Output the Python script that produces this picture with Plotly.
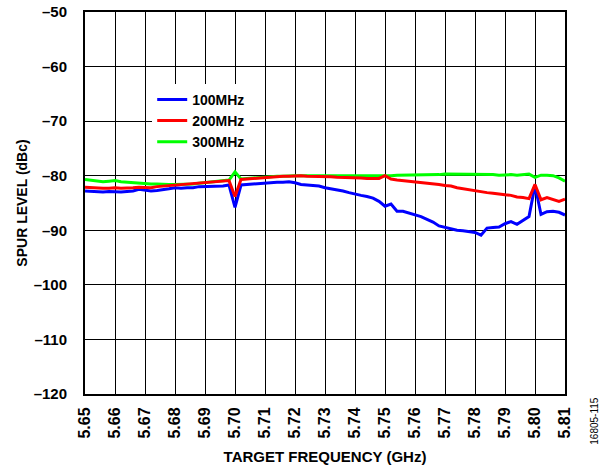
import plotly.graph_objects as go

freq_ghz = [round(5.65 + 0.002 * i, 3) for i in range(81)]

spur_100mhz = [
    -82.8, -82.9, -83.0, -83.0, -82.9, -83.0, -83.0, -82.9, -82.8, -82.5,
    -82.6, -82.8, -82.7, -82.6, -82.4, -82.2, -82.3, -82.2, -82.2, -82.0,
    -82.0, -82.0, -81.9, -81.9, -81.7, -85.8, -81.7, -81.6, -81.5, -81.4,
    -81.3, -81.3, -81.2, -81.2, -81.1, -81.3, -81.6, -81.7, -81.8, -81.9,
    -82.2, -82.4, -82.5, -82.8, -83.1, -83.4, -83.6, -83.8, -84.1, -84.7,
    -85.6, -85.2, -86.5, -86.5, -86.8, -87.1, -87.5, -88.0, -88.5, -89.2,
    -89.5, -89.7, -90.0, -90.1, -90.2, -90.4, -90.9, -89.6, -89.5, -89.4,
    -88.8, -88.4, -88.9, -88.2, -87.5, -81.8, -87.1, -86.6, -86.5, -86.7,
    -87.2,
]

spur_200mhz = [
    -82.1, -82.2, -82.2, -82.3, -82.3, -82.2, -82.3, -82.3, -82.2, -82.1,
    -82.1, -82.2, -82.0, -81.9, -81.8, -81.7, -81.7, -81.6, -81.5, -81.4,
    -81.3, -81.1, -81.0, -81.0, -80.9, -83.8, -80.7, -80.6, -80.5, -80.4,
    -80.3, -80.3, -80.2, -80.1, -80.1, -80.0, -80.0, -80.1, -80.1, -80.1,
    -80.2, -80.2, -80.3, -80.3, -80.3, -80.4, -80.4, -80.5, -80.5, -80.5,
    -80.0, -80.6, -80.8, -80.9, -81.0, -81.1, -81.2, -81.3, -81.5, -81.6,
    -81.8, -81.9, -82.2, -82.4, -82.5, -82.7, -82.9, -83.1, -83.2, -83.4,
    -83.5, -83.6, -83.9, -84.0, -84.2, -81.6, -84.4, -84.0, -84.3, -84.7,
    -84.3,
]

spur_300mhz = [
    -80.7, -80.8, -80.9, -81.1, -81.0, -80.9, -81.1, -81.2, -81.3, -81.4,
    -81.5, -81.5, -81.5, -81.6, -81.6, -81.6, -81.6, -81.5, -81.5, -81.4,
    -81.3, -81.1, -81.0, -81.0, -80.8, -79.3, -80.6, -80.5, -80.4, -80.3,
    -80.3, -80.2, -80.1, -80.1, -80.0, -80.0, -80.0, -80.0, -80.0, -80.0,
    -80.1, -80.1, -80.1, -80.1, -80.1, -80.1, -80.1, -80.1, -80.0, -80.0,
    -80.0, -80.0, -79.9, -79.9, -79.8, -79.9, -79.9, -79.8, -79.8, -79.8,
    -79.7, -79.7, -79.7, -79.8, -79.8, -79.8, -79.8, -79.8, -79.8, -79.9,
    -79.8, -79.8, -79.9, -79.8, -79.7, -80.3, -79.9, -79.9, -80.0, -80.4,
    -81.0,
]

x_ticks = [5.65, 5.66, 5.67, 5.68, 5.69, 5.70, 5.71, 5.72, 5.73, 5.74,
           5.75, 5.76, 5.77, 5.78, 5.79, 5.80, 5.81]
x_tick_labels = ["5.65", "5.66", "5.67", "5.68", "5.69", "5.70", "5.71", "5.72",
                 "5.73", "5.74", "5.75", "5.76", "5.77", "5.78", "5.79", "5.80", "5.81"]
y_ticks = [-50, -60, -70, -80, -90, -100, -110, -120]
y_tick_labels = ["\u201350", "\u201360", "\u201370", "\u201380", "\u201390",
                 "\u2013100", "\u2013110", "\u2013120"]

FONT = "Liberation Sans, Arial, sans-serif"

fig = go.Figure()
fig.add_trace(go.Scatter(x=freq_ghz, y=spur_100mhz, mode="lines", name="100MHz",
                         line=dict(color="#0000ff", width=3), legendrank=1))
fig.add_trace(go.Scatter(x=freq_ghz, y=spur_300mhz, mode="lines", name="300MHz",
                         line=dict(color="#00ff00", width=3), legendrank=3))
fig.add_trace(go.Scatter(x=freq_ghz, y=spur_200mhz, mode="lines", name="200MHz",
                         line=dict(color="#ff0000", width=3), legendrank=2))

fig.update_layout(
    width=605, height=471,
    margin=dict(l=85, r=40, t=12, b=77, autoexpand=False),
    paper_bgcolor="white", plot_bgcolor="white",
    font=dict(family=FONT, size=14, color="black", weight="bold"),
    showlegend=True,
    legend=dict(x=0.14, y=0.812, xanchor="left", yanchor="top",
                bgcolor="white", borderwidth=0, tracegroupgap=0,
                font=dict(family=FONT, size=14, color="black", weight="bold"),
                itemwidth=30),
    xaxis=dict(
        range=[5.65, 5.81], tickvals=x_ticks, ticktext=x_tick_labels,
        tickangle=-90, showgrid=True, gridcolor="black", gridwidth=1,
        showline=True, linecolor="black", linewidth=2, mirror=True,
        ticks="", zeroline=False, ticklabelstandoff=5, automargin=False,
        tickfont=dict(family=FONT, size=16, weight="bold"),
        title=dict(text="TARGET FREQUENCY (GHz)", standoff=14,
                   font=dict(family=FONT, size=15, weight="bold")),
    ),
    yaxis=dict(
        range=[-120, -50], tickvals=y_ticks, ticktext=y_tick_labels,
        showgrid=True, gridcolor="black", gridwidth=1,
        showline=True, linecolor="black", linewidth=2, mirror=True,
        ticks="", zeroline=False, ticklabelstandoff=13, automargin=False,
        tickfont=dict(family=FONT, size=15, weight="bold"),
        title=dict(text="SPUR LEVEL (dBc)", standoff=3,
                   font=dict(family=FONT, size=14, weight="bold")),
    ),
    annotations=[dict(text="16805-115", xref="paper", yref="paper",
                      x=1.0, y=-0.07, xshift=30, textangle=-90,
                      showarrow=False, xanchor="center", yanchor="middle",
                      font=dict(family=FONT, size=10, weight="normal"))],
)

fig.write_html("out.html", config={"displayModeBar": False},
               post_script="document.body.style.margin='0';document.body.style.padding='0';")
